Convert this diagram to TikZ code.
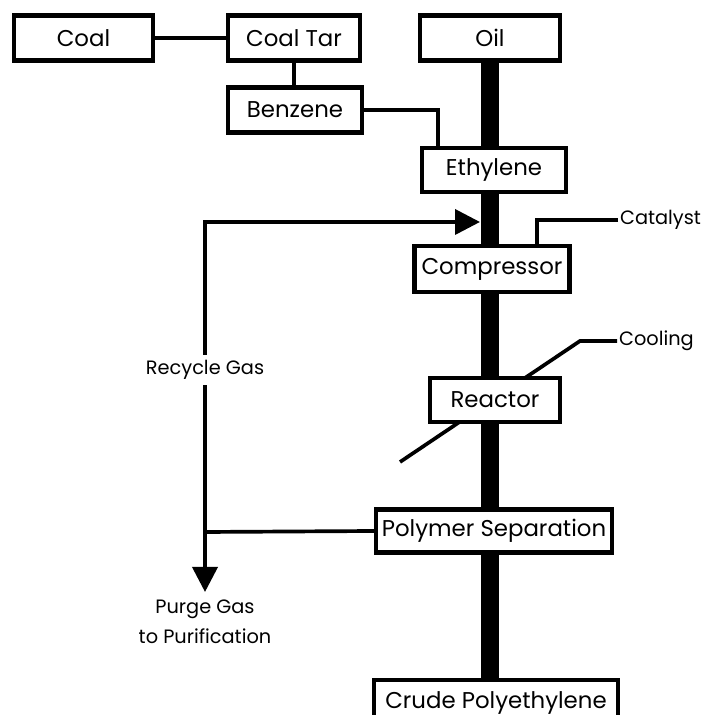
\documentclass[tikz,border=0pt]{standalone}
\usepackage{fontspec}
\setmainfont{Poppins}
\usetikzlibrary{arrows.meta, positioning}
\pgfdeclarelayer{background}
\pgfsetlayers{background,main}

\begin{document}
\begin{tikzpicture}[
    box/.style={draw, line width=2.5pt, fill=white, minimum height=0.9cm, inner sep=0pt, font=\fontsize{13}{15}\selectfont},
    pipe/.style={line width=2.1pt},
    spine/.style={line width=10pt},
    flow/.style={pipe, -{Triangle[length=5mm, width=5mm]}},
    tag/.style={font=\fontsize{11}{17}\selectfont, align=center, inner sep=1pt}
]
\useasboundingbox (0,0) rectangle (14.08,14.3);
% Feedstocks
\node[box, minimum width=2.78cm] (coal) at (1.67,13.54) {Coal};
\node[box, minimum width=2.64cm] (coaltar) at (5.88,13.54) {Coal Tar};
\node[box, minimum width=2.8cm] (oil) at (9.8,13.54) {Oil};
\node[box, minimum width=2.68cm] (benzene) at (5.9,12.1) {Benzene};
% Main process line
\node[box, minimum width=2.88cm, minimum height=0.88cm] (ethylene) at (9.88,10.9) {Ethylene};
\node[box, minimum width=3.1cm, minimum height=0.92cm] (compressor) at (9.84,8.92) {Compressor};
\node[box, minimum width=2.6cm, minimum height=0.88cm] (reactor) at (9.9,6.3) {Reactor};
\node[box, minimum width=4.72cm, minimum height=0.86cm] (polysep) at (9.88,3.68) {Polymer Separation};
\node[box, minimum width=4.88cm] (crude) at (9.92,0.25) {Crude Polyethylene};
% Side streams
\node[tag, anchor=west] (catalyst) at (12.36,9.9) {Catalyst};
\node[tag, anchor=west] (cooling) at (12.34,7.48) {Cooling};
\coordinate (coolend) at (8.0,5.06);
\coordinate (split) at (4.1,3.66);
\coordinate (inlet) at (9.6,9.86);
\coordinate (purgetip) at (4.1,2.46);
% Thick product line and cooling pipe behind the boxes
\begin{pgfonlayer}{background}
\foreach \a/\b in {oil/ethylene, ethylene/compressor, compressor/reactor, reactor/polysep, polysep/crude} {
    \draw[spine] (oil.south |- \a.south) -- (oil.south |- \b.north);
}
\draw[pipe] (cooling.west) -- (11.6,7.48) -- (coolend);
\end{pgfonlayer}
% Connections
\draw[pipe] (coal) -- (coaltar);
\draw[pipe] (coaltar.south) -- (coaltar.south |- benzene.north);
\draw[pipe] (benzene.east) -| ([xshift=-1.12cm]ethylene.north);
\draw[pipe] (catalyst.west) -| ([xshift=0.9cm]compressor.north);
% Recycle and purge
\draw[pipe] (polysep.west) -- (split);
\draw[flow] (split) |- (inlet);
\draw[flow] (split) -- (purgetip);
\node[tag, fill=white, inner sep=3pt] (recycle) at (4.1,6.9) {Recycle Gas};
\node[tag, below=0.12cm of purgetip] (purge) {Purge Gas\\to Purification};
\end{tikzpicture}
\end{document}
